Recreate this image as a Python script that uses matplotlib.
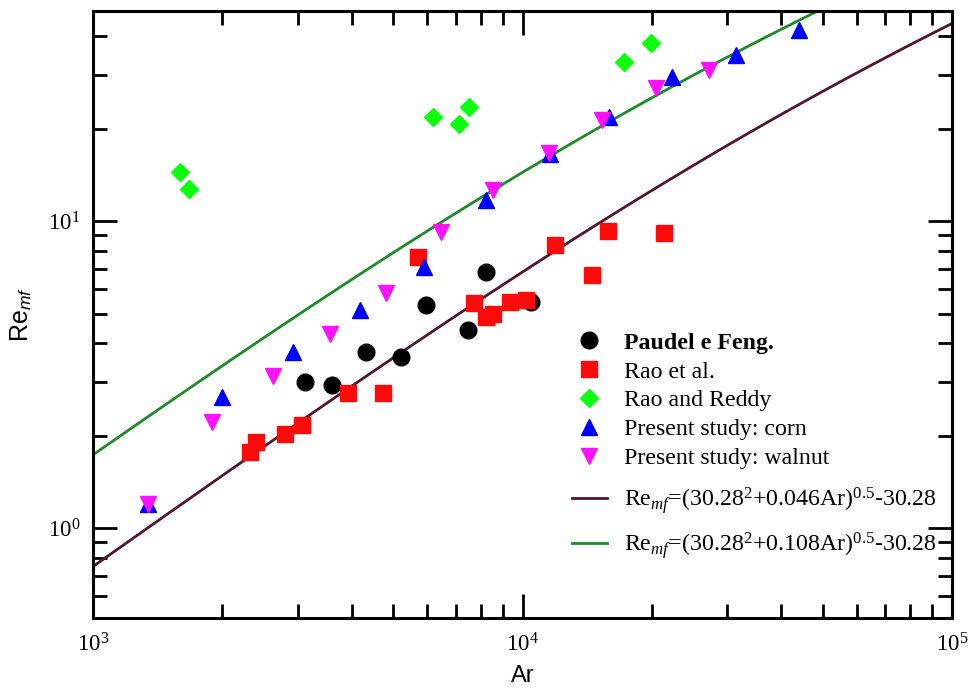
import numpy as np
import matplotlib
matplotlib.use("Agg")
import matplotlib.pyplot as plt
from matplotlib.ticker import LogLocator, NullFormatter

plt.rcParams["font.family"] = ["Liberation Serif", "DejaVu Serif"]
plt.rcParams["mathtext.fontset"] = "custom"
plt.rcParams["mathtext.rm"] = "Liberation Serif"
plt.rcParams["mathtext.it"] = "Liberation Serif:italic"
plt.rcParams["mathtext.bf"] = "Liberation Serif:bold"
plt.rcParams["mathtext.sf"] = "Liberation Sans:italic"

# Paudel e Feng.
paudel_ar = [3110, 3610, 4310, 5220, 5970, 7450, 8230, 10480]
paudel_re = [3.00, 2.92, 3.75, 3.61, 5.33, 4.42, 6.84, 5.46]

# Rao et al.
rao_ar = [2320, 2390, 2800, 3060, 3920, 4730, 5710, 7730, 8230, 8530,
          9330, 10200, 11910, 14510, 15790, 21390]
rao_re = [1.77, 1.91, 2.02, 2.17, 2.76, 2.76, 7.62, 5.39, 4.88, 5.00,
          5.46, 5.53, 8.38, 6.67, 9.30, 9.14]

# Rao and Reddy
reddy_ar = [1590, 1670, 6190, 7110, 7500, 17270, 19920]
reddy_re = [14.4, 12.7, 21.8, 20.7, 23.5, 33.0, 37.9]

# Present study: corn
corn_ar = [1340, 2000, 2920, 4180, 5890, 8230, 11560, 15930, 22330, 31410, 44080]
corn_re = [1.20, 2.67, 3.75, 5.13, 7.10, 11.7, 16.5, 21.8, 29.4, 34.7, 41.9]

# Present study: walnut
walnut_ar = [1340, 1890, 2620, 3560, 4820, 6470, 8530, 11510, 15350, 20460, 27220]
walnut_re = [1.20, 2.22, 3.13, 4.28, 5.84, 9.23, 12.6, 16.6, 21.3, 27.1, 31.0]

# Re_mf = (C1^2 + C2*Ar)^0.5 - C1
C1 = 30.28
C2_LOW = 0.046
C2_HIGH = 0.108


def re_mf(ar, c2):
    return np.sqrt(C1 ** 2 + c2 * ar) - C1


fig = plt.figure(figsize=(9.72, 6.89), dpi=100)
ax = fig.add_axes([93 / 972, 1 - 618 / 689, (952 - 93) / 972, (618 - 11) / 689])

ar_line = np.logspace(3, 5, 400)
low_line, = ax.plot(ar_line, re_mf(ar_line, C2_LOW), color="#521530", lw=2.0, zorder=2,
                    label=r"Re$_{mf}$=(30.28$^{2}$+0.046Ar)$^{0.5}$-30.28")
high_line, = ax.plot(ar_line, re_mf(ar_line, C2_HIGH), color="#1f8a2a", lw=2.0, zorder=2,
                     label=r"Re$_{mf}$=(30.28$^{2}$+0.108Ar)$^{0.5}$-30.28")

pts = [
    ax.plot(paudel_ar, paudel_re, "o", color="black", ms=12, ls="none",
            label="Paudel e Feng.", zorder=3)[0],
    ax.plot(rao_ar, rao_re, "s", color="#ff0a0a", ms=11, ls="none",
            label="Rao et al.", zorder=3)[0],
    ax.plot(reddy_ar, reddy_re, "D", color="#0dff0d", ms=9, ls="none",
            label="Rao and Reddy", zorder=3)[0],
    ax.plot(corn_ar, corn_re, "^", color="#0000ff", ms=12, ls="none",
            label="Present study: corn", zorder=3)[0],
    ax.plot(walnut_ar, walnut_re, "v", color="#ff10ff", ms=12, ls="none",
            label="Present study: walnut", zorder=4)[0],
]

ax.set_xscale("log")
ax.set_yscale("log")
ax.set_xlim(1e3, 1e5)
ax.set_ylim(0.51, 48.3)

ax.xaxis.set_minor_locator(LogLocator(base=10, subs=np.arange(2, 10)))
ax.yaxis.set_minor_locator(LogLocator(base=10, subs=np.arange(2, 10)))
ax.xaxis.set_minor_formatter(NullFormatter())
ax.yaxis.set_minor_formatter(NullFormatter())
ax.tick_params(which="both", direction="in", top=True, right=True,
               width=2, labelsize=16.5)
ax.tick_params(axis="x", pad=11)
ax.tick_params(axis="y", pad=9)
ax.tick_params(which="major", length=17)
ax.tick_params(which="minor", length=10)
for s in ax.spines.values():
    s.set_linewidth(2.2)

ax.set_xlabel("Ar", family="Liberation Sans", fontsize=17, labelpad=6)
ax.set_ylabel(r"Re$_{\mathsf{mf}}$", family="Liberation Sans", fontsize=18, labelpad=10)

# markers and fitted curves in two stacked legends
leg_kw = dict(loc="upper left", frameon=False, fontsize=17.2, handlelength=1.5,
              handletextpad=0.7, borderaxespad=0, numpoints=1)
leg_pts = ax.legend(handles=pts, bbox_to_anchor=(0.546, 0.487),
                    labelspacing=0.3, **leg_kw)
leg_pts.get_texts()[0].set_fontweight("bold")
ax.add_artist(leg_pts)
ax.legend(handles=[low_line, high_line], bbox_to_anchor=(0.546, 0.235),
          labelspacing=0.6, **leg_kw)

fig.savefig("out.png", dpi=100)
